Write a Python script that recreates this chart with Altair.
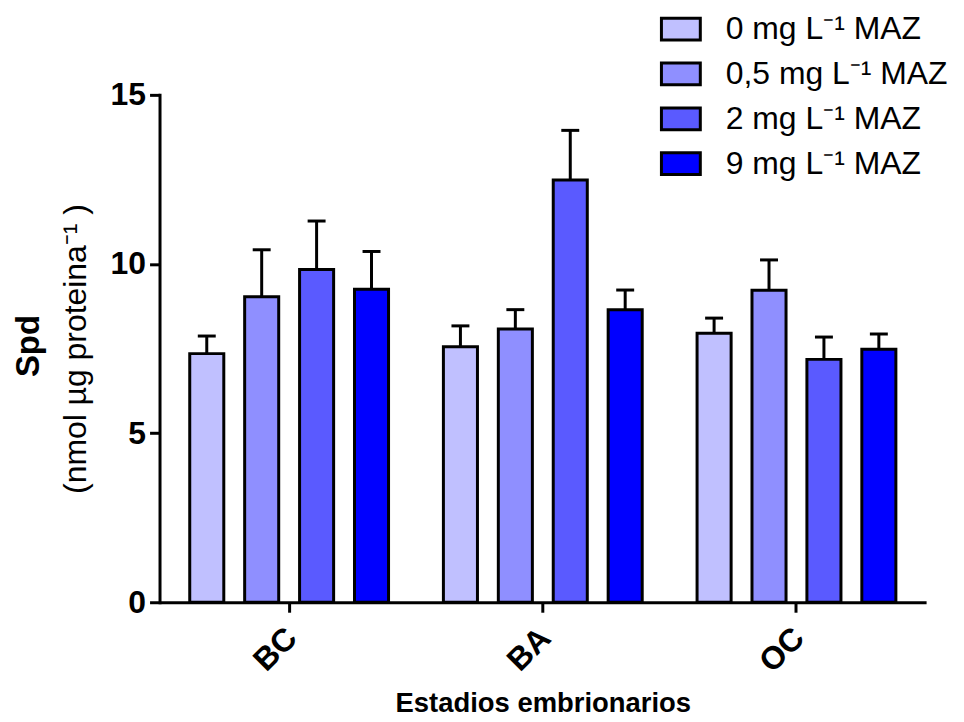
import altair as alt
import pandas as pd

stages = ["BC", "BA", "OC"]
doses = ["0 mg L⁻¹ MAZ", "0,5 mg L⁻¹ MAZ", "2 mg L⁻¹  MAZ", "9 mg L⁻¹ MAZ"]
colors = ["#C0C0FF", "#8F8FFF", "#5A5AFF", "#0000FF"]

mean_0 = [7.35, 7.55, 7.95]
mean_05 = [9.03, 8.08, 9.22]
mean_2 = [9.84, 12.48, 7.18]
mean_9 = [9.25, 8.65, 7.48]

err_0 = [0.52, 0.62, 0.45]
err_05 = [1.39, 0.57, 0.9]
err_2 = [1.43, 1.47, 0.66]
err_9 = [1.12, 0.58, 0.45]

rows = []
for dose, means, errs in zip(doses, [mean_0, mean_05, mean_2, mean_9], [err_0, err_05, err_2, err_9]):
    for s, m, e in zip(stages, means, errs):
        rows.append({"stage": s, "dose": dose, "mean": m, "upper": m + e})
df = pd.DataFrame(rows)

FONT = "Liberation Sans"

x_enc = alt.X("stage:N", sort=stages,
              scale=alt.Scale(domain=stages, paddingInner=0.134, paddingOuter=0.078),
              axis=alt.Axis(title="Estadios embrionarios", labelAngle=-45,
                            labelFont=FONT, labelFontSize=32, labelFontWeight="bold",
                            labelColor="black", titleFont=FONT, titleFontSize=27.5,
                            titleFontWeight="bold", titleColor="black",
                            titleY=110, titleBaseline="alphabetic",
                            domainColor="black", domainWidth=3, tickColor="black",
                            tickWidth=3, tickSize=10, labelPadding=10, labelOffset=-8))
xoff = alt.XOffset("dose:N", sort=doses,
                   scale=alt.Scale(domain=doses, paddingInner=0.38, paddingOuter=0.19))
y_enc = alt.Y("mean:Q", scale=alt.Scale(domain=[0, 15], nice=False),
              axis=alt.Axis(title="(nmol µg proteina⁻¹ )", values=[0, 5, 10, 15], grid=False,
                            labelFont=FONT, labelFontSize=32, labelFontWeight="bold",
                            labelColor="black", titleFont=FONT, titleFontSize=32,
                            titleFontWeight="normal", titleColor="black", titlePadding=18,
                            domainColor="black", domainWidth=3, tickColor="black",
                            tickWidth=3, tickSize=10, labelPadding=4))

base = alt.Chart(df)

bars = base.mark_bar(stroke="black", strokeWidth=3).encode(
    x=x_enc, xOffset=xoff, y=y_enc,
    color=alt.Color("dose:N", sort=doses,
                    scale=alt.Scale(domain=doses, range=colors),
                    legend=alt.Legend(title=None, orient="none", legendX=502, legendY=-87,
                                      symbolType="M-1,-0.56L1,-0.56L1,0.56L-1,0.56Z",
                                      symbolSize=1521, symbolStrokeColor="black",
                                      symbolStrokeWidth=3, symbolOpacity=1,
                                      labelFont=FONT, labelFontSize=32, labelColor="black",
                                      labelOffset=24, rowPadding=7, padding=0,
                                      labelLimit=400)),
)

stems = base.mark_rule(color="black", strokeWidth=3).encode(
    x=alt.X("stage:N", sort=stages), xOffset=alt.XOffset("dose:N", sort=doses),
    y="mean:Q", y2="upper:Q")

caps = base.mark_tick(color="black", thickness=3, size=18, opacity=1).encode(
    x=alt.X("stage:N", sort=stages), xOffset=alt.XOffset("dose:N", sort=doses),
    y="upper:Q")

spd = alt.Chart(pd.DataFrame({"t": ["Spd"]})).mark_text(
    angle=270, font=FONT, fontSize=33, fontWeight="bold", color="black",
    align="center", baseline="middle").encode(
    text="t:N", x=alt.value(-131), y=alt.value(252))

chart = alt.layer(bars, stems, caps, spd).properties(
    width=769, height=509,
    autosize=alt.AutoSizeParams(type="none"),
    padding={"left": 152, "top": 86, "right": 30, "bottom": 118},
).configure_view(stroke=None).configure_axisY(domainCap="square")

chart.save("out.html", embed_options={"renderer": "svg", "actions": False})
